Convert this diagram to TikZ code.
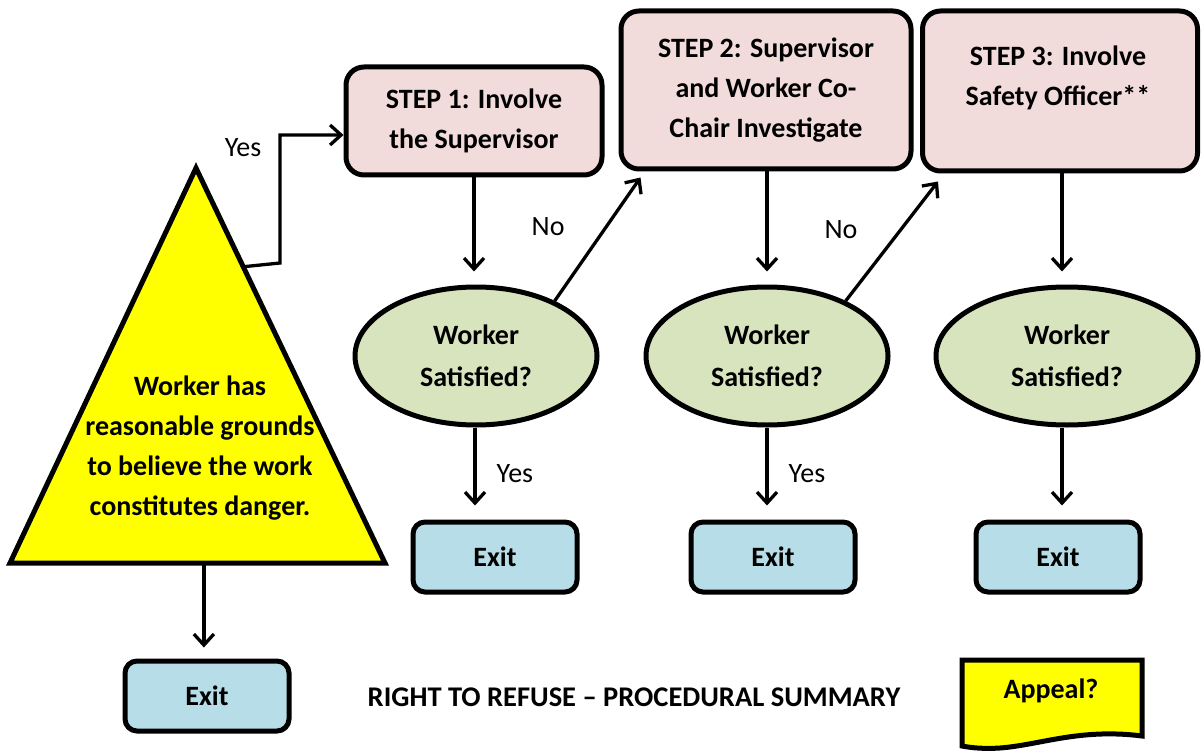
\documentclass[tikz,border=0pt]{standalone}
\usepackage{fontspec}
\setmainfont{Carlito}
\usepackage{tikz}
\usetikzlibrary{arrows.meta,calc,positioning,shapes.geometric}
\definecolor{stepfill}{RGB}{242,220,219}
\definecolor{askfill}{RGB}{215,228,189}
\definecolor{exitfill}{RGB}{183,222,232}
\definecolor{dangerfill}{RGB}{255,255,0}
\tikzset{
  stepbox/.style={rectangle,rounded corners=18pt,draw=black,line width=5pt,
    fill=stepfill,align=center,inner sep=0pt,font=\bfseries\fontsize{28}{40}\selectfont},
  askbox/.style={ellipse,draw=black,line width=5pt,fill=askfill,align=center,
    minimum width=242pt,minimum height=138pt,inner sep=0pt,
    font=\bfseries\fontsize{28}{42}\selectfont},
  exitbox/.style={rectangle,rounded corners=12pt,draw=black,line width=5pt,
    fill=exitfill,minimum width=164pt,minimum height=70pt,
    font=\bfseries\fontsize{28}{32}\selectfont},
  danger/.style={draw=black,line width=5pt,fill=dangerfill},
  dangertext/.style={align=center,inner sep=0pt,font=\bfseries\fontsize{28}{40}\selectfont},
  flow/.style={-{Straight Barb[length=11pt,width=20pt]},line width=3.3pt},
  lbl/.style={inner sep=0pt,font=\fontsize{28}{32}\selectfont}
}
\begin{document}
\begin{tikzpicture}[x=1pt,y=-1pt]
  \useasboundingbox (0,0) rectangle (1201,751);
  \coordinate (tip) at (196,168);
  \coordinate (bl) at (10,563);
  \coordinate (br) at (385,563);
  \draw[danger] (tip) -- (br) -- (bl) -- cycle;
  \node[dangertext] (worker) at (200,448) {Worker has\\reasonable grounds\\to believe the work\\constitutes danger.};
  \coordinate (yesfrom) at ($(tip)!0.25!(br)$);
  \coordinate (basemid) at ($(bl)!0.517!(br)$);
  \node[stepbox,minimum width=256pt,minimum height=108pt] (s1) at (474,121) {STEP 1: Involve\\the Supervisor};
  \node[stepbox,minimum width=290pt,minimum height=158pt] (s2) at (766,90) {STEP 2: Supervisor\\and Worker Co-\\Chair Investigate};
  \node[stepbox,minimum width=275pt,minimum height=160pt] (s3) at (1060,91) {};
  \node[dangertext] (s3txt) at (1058,78) {STEP 3: Involve\\Safety Officer**};
  \node[askbox] (sat1) at (476,356) {Worker\\Satisfied?};
  \node[askbox] (sat2) at (767,356) {Worker\\Satisfied?};
  \node[askbox,minimum width=262pt] (sat3) at (1067,356) {Worker\\Satisfied?};
  \node[exitbox] (ex0) at (207,696) {Exit};
  \node[exitbox] (ex1) at (495,557) {Exit};
  \node[exitbox] (ex2) at (773,557) {Exit};
  \node[exitbox] (ex3) at (1058,557) {Exit};
  \node[font=\bfseries\fontsize{28.5}{32}\selectfont] (title) at (634,697) {RIGHT TO REFUSE – PROCEDURAL SUMMARY};
  \draw[danger] (962,660) -- (1142,660) -- (1142,736)
    .. controls (1080,728) and (1040,745) .. (1000,748)
    .. controls (985,749) and (972,748) .. (962,746) -- cycle;
  \node[font=\bfseries\fontsize{28}{32}\selectfont] (appeal) at (1051,691) {Appeal?};
  \draw[flow] (yesfrom) -- (280,263) |- node[lbl,pos=0.45,left=17pt] {Yes} ([yshift=-14pt]s1.west);
  \draw[flow,shorten >=11pt] (basemid) -- (basemid |- ex0.north);
  \draw[flow,shorten >=13pt] (s1.south) -- (s1.south |- sat1.north);
  \draw[flow,shorten >=13pt] ([xshift=1pt]s2.south) -- ([xshift=1pt]s2.south |- sat2.north);
  \draw[flow,shorten >=13pt] ([xshift=2pt]s3.south) -- ([xshift=2pt]s3.south |- sat3.north);
  \draw[flow] (sat1.35) -- node[lbl,pos=0.6,left=40pt] {No} ([xshift=22pt,yshift=-6pt]s2.south west);
  \draw[flow] (sat2.35) -- node[lbl,pos=0.6,left=42pt] {No} ([xshift=18pt,yshift=-8pt]s3.south west);
  \draw[flow,shorten >=14pt] ([xshift=-1pt]sat1.south) -- ([xshift=-1pt]sat1.south |- ex1.north) node[lbl,midway,right=20pt] {Yes};
  \draw[flow,shorten >=14pt] (sat2.south) -- (sat2.south |- ex2.north) node[lbl,midway,right=20pt] {Yes};
  \draw[flow,shorten >=14pt] ([xshift=-5pt]sat3.south) -- ([xshift=-5pt]sat3.south |- ex3.north);
\end{tikzpicture}
\end{document}
